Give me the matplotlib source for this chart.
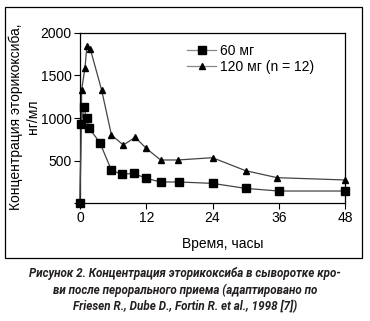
import matplotlib
matplotlib.use("Agg")
import matplotlib.pyplot as plt
from matplotlib.patches import Rectangle

# Data
t60 = [0, 0.2, 0.7, 1.2, 1.6, 3.6, 5.7, 7.6, 9.7, 12, 14.6, 18, 24, 30, 36, 48]
c60 = [0, 926, 1126, 996, 886, 709, 385, 337, 349, 290, 247, 247, 231, 172, 141, 141]
t120 = [0, 0.3, 0.9, 1.25, 1.85, 3.9, 5.7, 7.85, 10, 12, 14.6, 17.7, 24, 30, 35.7, 48]
c120 = [0, 1333, 1588, 1847, 1815, 1333, 800, 682, 773, 643, 506, 506, 533, 380, 298, 271]
label60 = "60 мг"
label120 = "120 мг (n = 12)"
xticks = [0, 12, 24, 36, 48]
yticks = [0, 500, 1000, 1500, 2000]
yticklabels = ["", "500", "1000", "1500", "2000"]
xlabel = "Время, часы"
ylabel1 = "Концентрация эторикоксиба,"
ylabel2 = "нг/мл"
caption = ["Рисунок 2. Концентрация эторикоксиба в сыворотке кро-",
           "ви после перорального приема (адаптировано по",
           "Friesen R., Dube D., Fortin R. et al., 1998 [7])"]

plt.rcParams['font.family'] = ['Liberation Sans', 'DejaVu Sans']
cap_family = ['Roboto', 'DejaVu Sans']

W, H = 370, 321
fig = plt.figure(figsize=(W/100, H/100), dpi=100)
ax = fig.add_axes([80/W, 1-203/H, 265/W, 170/H])

ax.plot(t60, c60, color='#444444', lw=0.9, marker='s', ms=5.5,
        mfc='black', mec='black', label=label60, zorder=3, clip_on=False)
ax.plot(t120, c120, color='#444444', lw=0.9, marker='^', ms=5,
        mfc='black', mec='black', label=label120, zorder=2, clip_on=False)

ax.set_xlim(0, 48)
ax.set_ylim(0, 2000)
ax.set_xticks(xticks)
ax.set_yticks(yticks)
ax.set_yticklabels(yticklabels)
ax.tick_params(direction='out', length=4, width=0.8, labelsize=10, pad=2, colors='black')
for s in ax.spines.values():
    s.set_linewidth(0.9)

ax.set_xlabel(xlabel, fontsize=10)
ax.xaxis.set_label_coords(0.54, -0.2)

fig.text(16/W, 1-117/H, ylabel1, rotation=90, ha='center', va='center', fontsize=10)
fig.text(33/W, 1-117/H, ylabel2, rotation=90, ha='center', va='center', fontsize=10)

leg = ax.legend(loc='upper left', bbox_to_anchor=((187-80)/265, (203-44)/170),
                frameon=False, fontsize=10, handlelength=2.1, handletextpad=0.3,
                borderpad=0, borderaxespad=0, labelspacing=0.15)
for h in leg.get_lines():
    h.set_color('#888888')

fig.add_artist(Rectangle((5/W, 1-258/H), 357/W, 251/H, transform=fig.transFigure,
                         fill=False, lw=0.9, ec='black'))

# caption: fit first line to ~312 px wide
renderer = fig.canvas.get_renderer()
size = 10.5
probe = fig.text(0, 0, caption[0], fontsize=size, fontweight='bold', style='italic',
                 family=cap_family)
wpx = probe.get_window_extent(renderer).width
probe.remove()
size = min(10.5, size * 312 / wpx)

for i, line in enumerate(caption):
    fig.text(0.5, 1-(273+17*i)/H, line, ha='center', va='center', fontsize=size,
             fontweight='bold', style='italic', family=cap_family, color='#231f20')

fig.savefig("out.png", dpi=100)
